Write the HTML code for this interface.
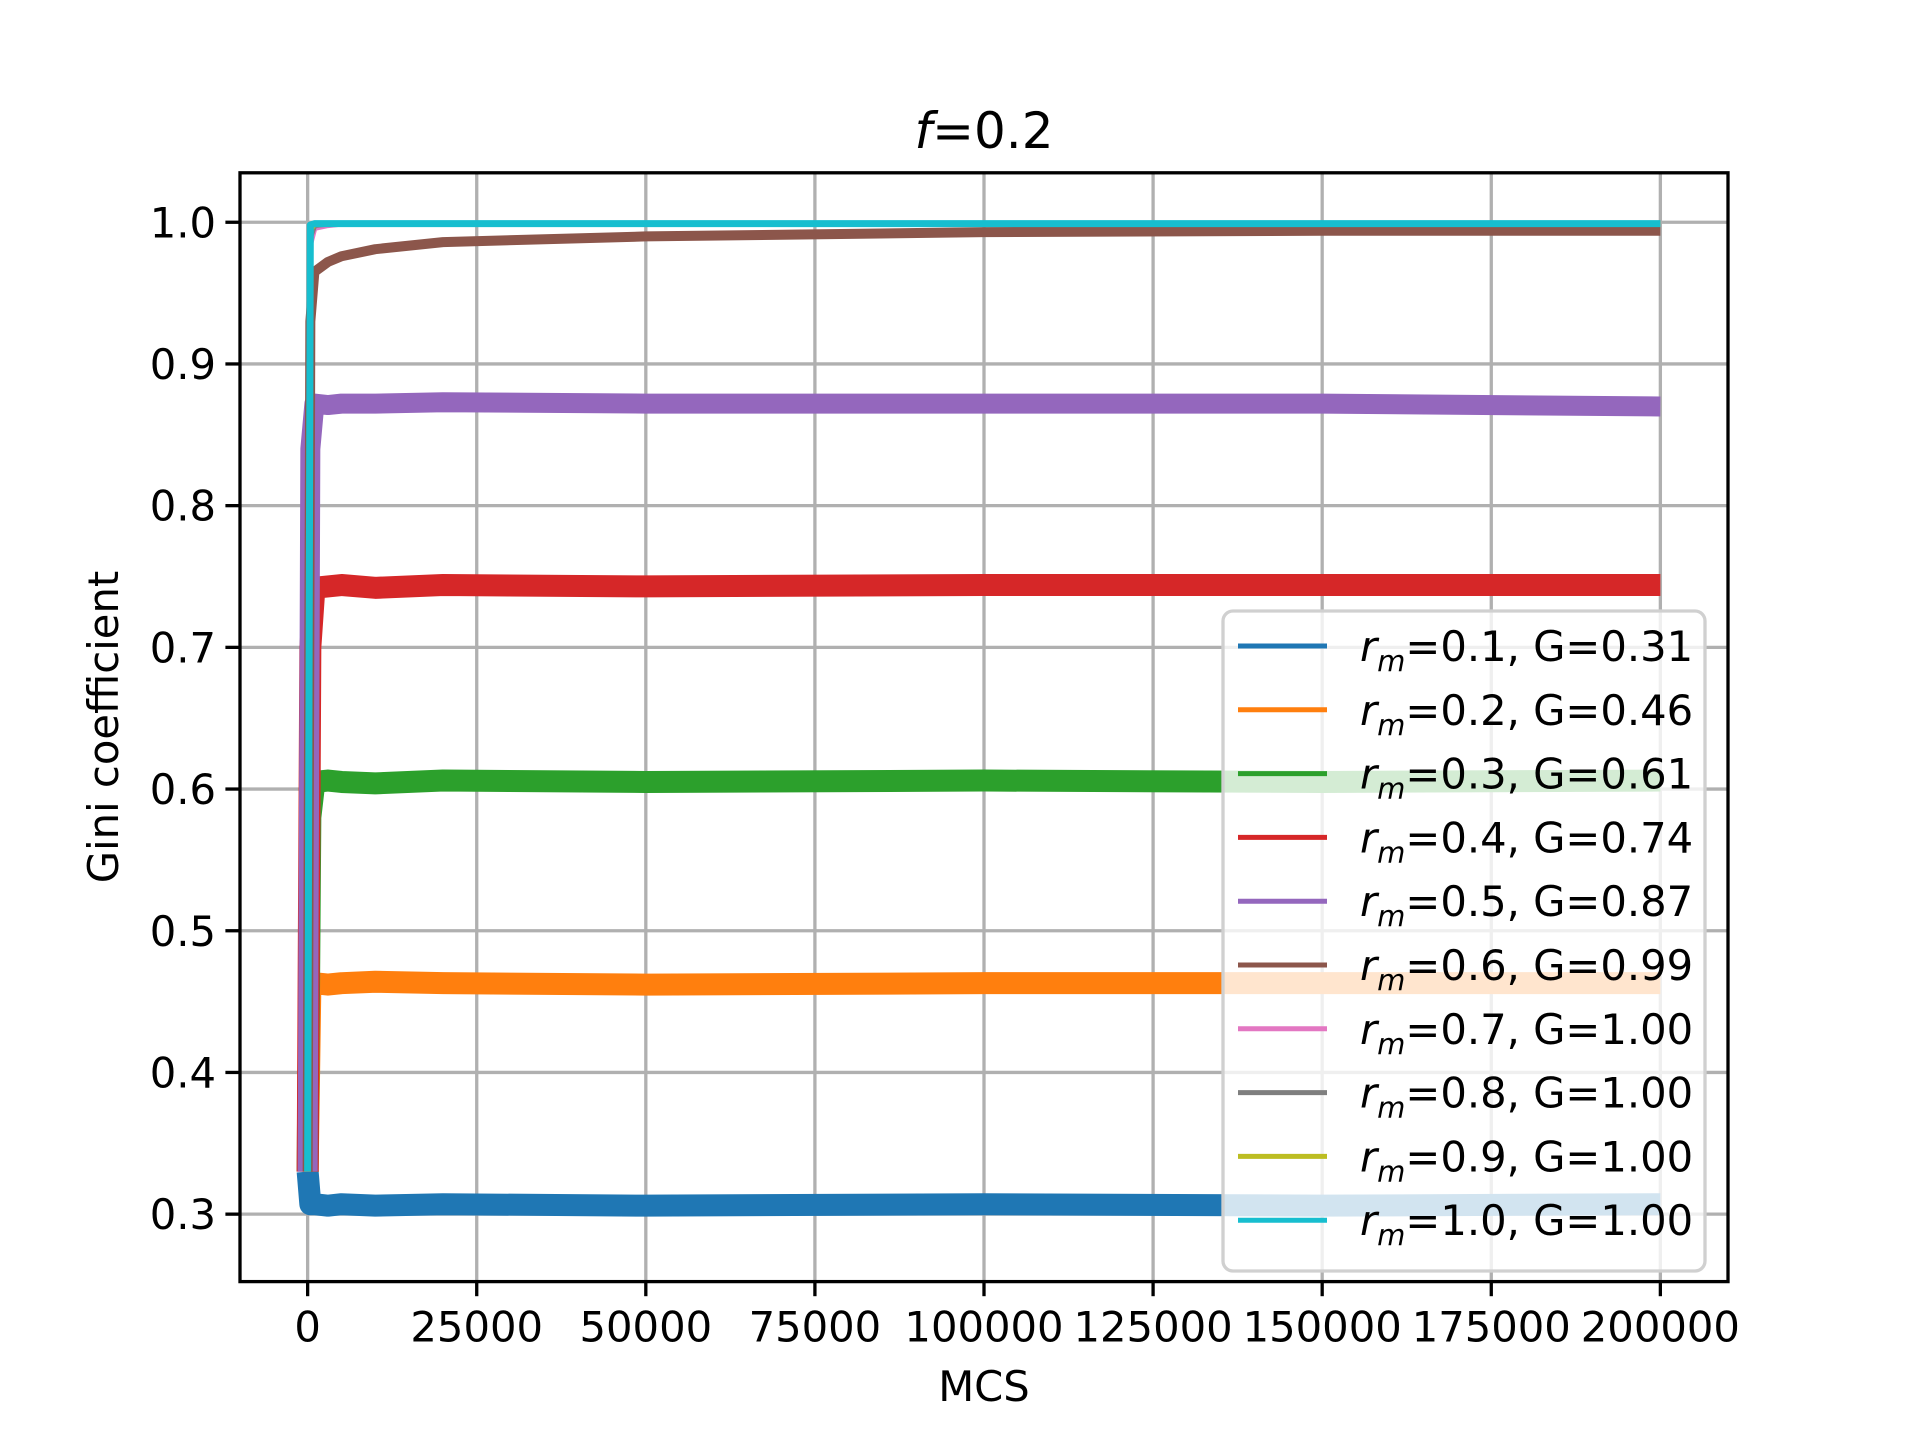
<!DOCTYPE html>
<html><head><meta charset="utf-8"><style>
body{margin:0;background:#fff;}
svg{display:block;font-family:"DejaVu Sans","Liberation Sans",sans-serif;}
</style></head><body>
<svg id="chart" width="1920" height="1440" viewBox="0 0 1920 1440">
<rect width="1920" height="1440" fill="#fff"/>
<g id="grid"></g>
<g id="series"></g>
<rect x="240" y="172.8" width="1488" height="1108.8" fill="none" stroke="#000" stroke-width="3.3"/>
<g id="ticks"></g>
<text x="984" y="148" font-size="50" text-anchor="middle"><tspan font-style="italic">f</tspan>=0.2</text>
<text x="984" y="1401" font-size="41.7" text-anchor="middle">MCS</text>
<text transform="translate(118,727) rotate(-90)" font-size="41.7" text-anchor="middle">Gini coefficient</text>
<g id="legend"></g>
</svg>
<script>
const xTicks=[0,25000,50000,75000,100000,125000,150000,175000,200000];
const yTicks=[0.3,0.4,0.5,0.6,0.7,0.8,0.9,1.0];
const seriesNames=["0.1","0.2","0.3","0.4","0.5","0.6","0.7","0.8","0.9","1.0"];
const seriesG=["0.31","0.46","0.61","0.74","0.87","0.99","1.00","1.00","1.00","1.00"];
const colors=["#1f77b4","#ff7f0e","#2ca02c","#d62728","#9467bd","#8c564b","#e377c2","#7f7f7f","#bcbd22","#17becf"];
const sampleX=[0,400,1000,3000,5000,10000,20000,50000,100000,150000,200000];
const v1=[0.33,0.307,0.307,0.306,0.307,0.306,0.307,0.306,0.307,0.306,0.307];
const v2=[0.33,0.46,0.463,0.462,0.463,0.464,0.463,0.462,0.463,0.463,0.463];
const v3=[0.33,0.58,0.605,0.606,0.605,0.604,0.606,0.605,0.606,0.605,0.606];
const v4=[0.33,0.70,0.742,0.743,0.744,0.742,0.744,0.743,0.744,0.744,0.744];
const v5=[0.33,0.84,0.872,0.871,0.872,0.872,0.873,0.872,0.872,0.872,0.870];
const v6=[0.33,0.93,0.965,0.972,0.976,0.981,0.986,0.990,0.993,0.994,0.994];
const v7=[0.33,0.985,0.996,0.998,0.999,0.999,0.999,0.999,0.999,0.999,0.999];
const v8=[0.33,0.99,0.998,0.999,0.999,0.999,0.999,0.999,0.999,0.999,0.999];
const v9=[0.33,0.995,0.999,0.999,0.999,0.999,0.999,0.999,0.999,0.999,0.999];
const v10=[0.33,0.998,0.999,0.999,0.999,0.999,0.999,0.999,0.999,0.999,0.999];
const allVals=[v1,v2,v3,v4,v5,v6,v7,v8,v9,v10];
const widths=[22,22,22,22,20,10,6,6,6,7];
const NS="http://www.w3.org/2000/svg";
const X0=240,X1=1728,Y0=172.8,Y1=1281.6,xmin=-10000,xmax=210000,ymin=0.2524,ymax=1.0349;
const sx=v=>X0+(v-xmin)/(xmax-xmin)*(X1-X0);
const sy=v=>Y1-(v-ymin)/(ymax-ymin)*(Y1-Y0);
function mk(t,a,p){const e=document.createElementNS(NS,t);for(const k in a)e.setAttribute(k,a[k]);p.appendChild(e);return e;}
const grid=document.getElementById('grid'),ticks=document.getElementById('ticks');
xTicks.forEach(v=>{
 const g=mk('line',{x1:sx(v),x2:sx(v),y1:Y0,y2:Y1,stroke:'#b0b0b0','stroke-width':3.3},grid);
 
 
 mk('line',{x1:sx(v),x2:sx(v),y1:Y1,y2:Y1+14.6,stroke:'#000','stroke-width':3.3},ticks);
 const t=mk('text',{x:sx(v),y:Y1+60,'font-size':41.7,'text-anchor':'middle'},ticks);
 t.textContent=v;
 
 
});
yTicks.forEach(v=>{
 const g=mk('line',{x1:X0,x2:X1,y1:sy(v),y2:sy(v),stroke:'#b0b0b0','stroke-width':3.3},grid);
 
 
 mk('line',{x1:X0-14.6,x2:X0,y1:sy(v),y2:sy(v),stroke:'#000','stroke-width':3.3},ticks);
 const t=mk('text',{x:X0-24,y:sy(v)+15,'font-size':41.7,'text-anchor':'end'},ticks);
 t.textContent=v.toFixed(1);
 
 
});
const sg=document.getElementById('series');
allVals.forEach((vals,i)=>{
 const pts=vals.map((v,j)=>sx(sampleX[j])+','+sy(v)).join(' ');
 const p=mk('polyline',{points:pts,fill:'none',stroke:colors[i],'stroke-width':widths[i],'stroke-linejoin':'round'},sg);
 
 
});
const lg=document.getElementById('legend');
const box=mk('rect',{x:1223,y:611,width:482,height:660,rx:10,fill:'rgba(255,255,255,0.8)',stroke:'#d0d0d0','stroke-width':3.3},lg);


seriesNames.forEach((n,i)=>{
 const y=646+63.8*i;
 const l=mk('line',{x1:1238,x2:1327,y1:y,y2:y,stroke:colors[i],'stroke-width':5},lg);
 
 
 const t=mk('text',{x:1360,y:y+15,'font-size':41.7},lg);
 
 
 const a=document.createElementNS(NS,'tspan');a.setAttribute('font-style','italic');a.textContent='r';t.appendChild(a);
 const b=document.createElementNS(NS,'tspan');b.setAttribute('font-style','italic');b.setAttribute('font-size','29');b.setAttribute('dy','10');b.textContent='m';t.appendChild(b);
 const c=document.createElementNS(NS,'tspan');c.setAttribute('dy','-10');c.textContent='='+n+', G='+seriesG[i];t.appendChild(c);
});
</script>
</body></html>
